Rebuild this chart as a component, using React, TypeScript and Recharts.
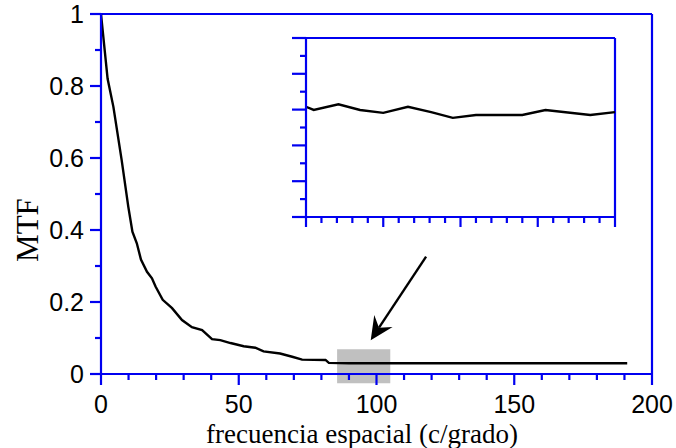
import React from "react";
import {
  LineChart,
  Line,
  XAxis,
  YAxis,
  ReferenceLine,
  ReferenceArea,
} from "recharts";

// --- data ---
const freqMain = [
  0, 2.4, 4.5, 7.5, 9.9, 11.4, 13, 14.5, 16.7, 18.5, 19.8, 22.4, 25.8, 29.4, 33,
  36.7, 40.3, 43.3, 47, 51.8, 56, 59, 65, 69.4, 73, 81.5, 82.7,
];
const mtfMain = [
  1.0, 0.82, 0.742, 0.594, 0.465, 0.395, 0.363, 0.318, 0.284, 0.266, 0.243,
  0.206, 0.183, 0.15, 0.13, 0.122, 0.097, 0.094, 0.086, 0.077, 0.073, 0.063,
  0.057, 0.048, 0.04, 0.039, 0.031,
];

// flat tail as drawn on the main axes
const freqTail = [90, 100, 110, 120, 130, 140, 150, 160, 170, 180, 191];
const mtfTail = [0.03, 0.03, 0.03, 0.03, 0.03, 0.03, 0.03, 0.03, 0.03, 0.03, 0.03];

// zoomed tail (shown in the inset)
const freqZoom = [85, 85.5, 87.1, 88.5, 90, 91.6, 93.1, 94.5, 96, 99, 100.5, 103.4, 105];
const mtfZoom = [
  0.0308, 0.0299, 0.0315, 0.0299, 0.0291, 0.0308, 0.0293, 0.0277, 0.0285,
  0.0285, 0.0299, 0.0285, 0.0293,
];

const xTicks = [0, 10, 20, 30, 40, 50, 60, 70, 80, 90, 100, 110, 120, 130, 140, 150, 160, 170, 180, 190, 200];
const yTicks = [0, 0.1, 0.2, 0.3, 0.4, 0.5, 0.6, 0.7, 0.8, 0.9, 1];
const insetXTicks = [85, 86, 87, 88, 89, 90, 91, 92, 93, 94, 95, 96, 97, 98, 99, 100, 101, 102, 103, 104, 105];
const insetYTicks = [0, 0.005, 0.01, 0.015, 0.02, 0.025, 0.03, 0.035, 0.04, 0.045, 0.05];

const mainData = [
  ...freqMain.map((f, i) => ({ f, mtf: mtfMain[i] })),
  ...freqTail.map((f, i) => ({ f, mtf: mtfTail[i] })),
];
const insetData = freqZoom.map((f, i) => ({ f, mtf: mtfZoom[i] }));

const BLUE = "#0000f0";
const SANS = "'Liberation Sans', Arial, sans-serif";
const SERIF = "'Liberation Serif', 'Times New Roman', serif";

function MainXTick({ x, y, payload }: any) {
  const v = payload.value;
  const major = v % 50 === 0;
  return (
    <g>
      <line x1={x} y1={y} x2={x} y2={y + (major ? 11 : 6)} stroke={BLUE} strokeWidth={2.2} />
      {major && (
        <text x={x} y={y + 39} textAnchor="middle" fontSize={25} fontFamily={SANS} fill="#000">
          {v}
        </text>
      )}
    </g>
  );
}

function MainYTick({ x, y, payload }: any) {
  const v = payload.value;
  const major = Math.round(v * 10) % 2 === 0;
  return (
    <g>
      <line x1={x} y1={y} x2={x - (major ? 11 : 6)} y2={y} stroke={BLUE} strokeWidth={2.2} />
      {major && (
        <text x={x - 17} y={y + 9} textAnchor="end" fontSize={25} fontFamily={SANS} fill="#000">
          {v}
        </text>
      )}
    </g>
  );
}

function InsetXTick({ x, y, payload }: any) {
  const major = payload.value % 5 === 0;
  return <line x1={x} y1={y} x2={x} y2={y + (major ? 10 : 6)} stroke={BLUE} strokeWidth={2.2} />;
}

function InsetYTick({ x, y, payload }: any) {
  const major = Math.round(payload.value * 1000) % 10 === 0;
  return <line x1={x} y1={y} x2={x - (major ? 14 : 6)} y2={y} stroke={BLUE} strokeWidth={2.2} />;
}

function Arrow(props: any) {
  const { x1, y1, x2, y2 } = props;
  const dx = x2 - x1;
  const dy = y2 - y1;
  const len = Math.sqrt(dx * dx + dy * dy);
  const ux = dx / len;
  const uy = dy / len;
  const nx = -uy;
  const ny = ux;
  const back = 23;
  const half = 11;
  const notch = 15;
  const w1 = `${x2 - ux * back + nx * half},${y2 - uy * back + ny * half}`;
  const w2 = `${x2 - ux * back - nx * half},${y2 - uy * back - ny * half}`;
  const n = `${x2 - ux * notch},${y2 - uy * notch}`;
  return (
    <g>
      <line x1={x1} y1={y1} x2={x2 - ux * notch} y2={y2 - uy * notch} stroke="#000" strokeWidth={2.4} />
      <polygon points={`${x2},${y2} ${w1} ${n} ${w2}`} fill="#000" />
    </g>
  );
}

export default function App() {
  return (
    <div style={{ position: "absolute", left: 0, top: 0, width: 676, height: 448, background: "#fff" }}>
      <div style={{ position: "absolute", left: 0, top: 0 }}>
        <LineChart width={676} height={448} data={mainData} margin={{ top: 14, right: 24, bottom: 0, left: 0 }}>
          <ReferenceArea
            x1={85.7}
            x2={105}
            y1={-0.026}
            y2={0.069}
            ifOverflow="visible"
            fill="#c0c0c0"
            fillOpacity={1}
            stroke="none"
          />
          <XAxis
            dataKey="f"
            type="number"
            domain={[0, 200]}
            ticks={xTicks}
            interval={0}
            height={74}
            tickSize={0}
            tickMargin={0}
            tickLine={false}
            axisLine={{ stroke: BLUE, strokeWidth: 2.2 }}
            tick={<MainXTick />}
          />
          <YAxis
            type="number"
            domain={[0, 1]}
            ticks={yTicks}
            interval={0}
            width={101}
            tickSize={0}
            tickMargin={0}
            tickLine={false}
            axisLine={{ stroke: BLUE, strokeWidth: 2.2 }}
            tick={<MainYTick />}
          />
          <ReferenceLine y={1} stroke={BLUE} strokeWidth={2.2} />
          <ReferenceLine x={200} stroke={BLUE} strokeWidth={2.2} />
          <ReferenceLine
            segment={[
              { x: 118, y: 0.326 },
              { x: 97.9, y: 0.094 },
            ]}
            ifOverflow="visible"
            shape={Arrow}
          />
          <Line
            type="linear"
            dataKey="mtf"
            stroke="#000"
            strokeWidth={2.4}
            dot={false}
            isAnimationActive={false}
          />
        </LineChart>
        <svg
          width={676}
          height={448}
          style={{ position: "absolute", left: 0, top: 0, pointerEvents: "none" }}
        >
          <text x={362} y={443} textAnchor="middle" fontSize={27} fontFamily={SERIF} fill="#000">
            frecuencia espacial (c/grado)
          </text>
          <text
            x={38}
            y={230}
            textAnchor="middle"
            fontSize={31}
            fontFamily={SERIF}
            fill="#000"
            transform="rotate(-90 38 230)"
          >
            MTF
          </text>
        </svg>
      </div>
      <div style={{ position: "absolute", left: 0, top: 0 }}>
        <LineChart width={676} height={448} data={insetData} margin={{ top: 38, right: 61, bottom: 0, left: 0 }}>
          <XAxis
            dataKey="f"
            type="number"
            domain={[85, 105]}
            ticks={insetXTicks}
            interval={0}
            height={231}
            tickSize={0}
            tickMargin={0}
            tickLine={false}
            axisLine={{ stroke: BLUE, strokeWidth: 2.2 }}
            tick={<InsetXTick />}
          />
          <YAxis
            type="number"
            domain={[0, 0.05]}
            ticks={insetYTicks}
            interval={0}
            width={306}
            tickSize={0}
            tickMargin={0}
            tickLine={false}
            axisLine={{ stroke: BLUE, strokeWidth: 2.2 }}
            tick={<InsetYTick />}
          />
          <ReferenceLine y={0.05} stroke={BLUE} strokeWidth={2.2} />
          <ReferenceLine x={105} stroke={BLUE} strokeWidth={2.2} />
          <Line
            type="linear"
            dataKey="mtf"
            stroke="#000"
            strokeWidth={2.4}
            dot={false}
            isAnimationActive={false}
          />
        </LineChart>
      </div>
    </div>
  );
}
